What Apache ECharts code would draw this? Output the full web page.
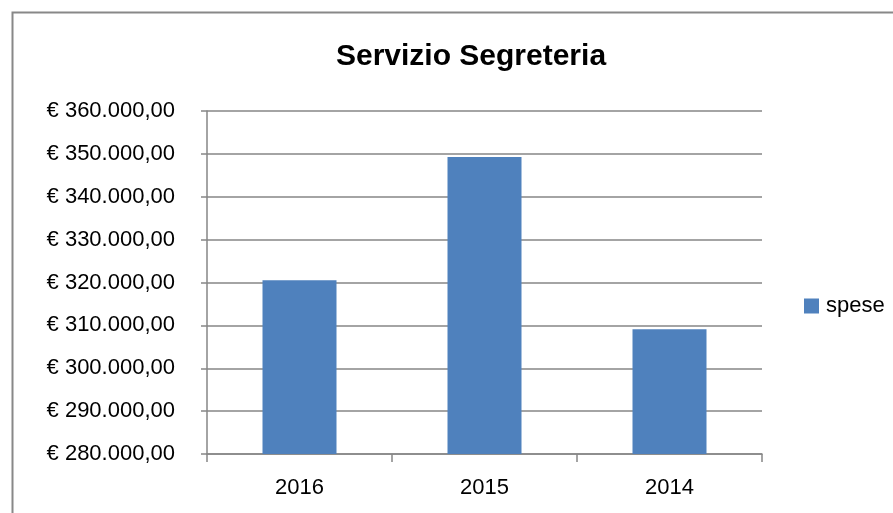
<!DOCTYPE html>
<html>
<head>
<meta charset="utf-8">
<script src="https://cdn.jsdelivr.net/npm/echarts@6/dist/echarts.min.js"></script>
<style>
  html, body { margin: 0; padding: 0; background: #fff; }
  #chart { width: 893px; height: 513px; }
</style>
</head>
<body>
<div id="chart"></div>
<script>
var anni = ['2016', '2015', '2014'];
var spese = [320500, 349300, 309100];
var yMin = 280000, yMax = 360000, yStep = 10000;

// € 360.000,00 style
function euro(v) {
  var s = Math.round(v).toString().replace(/\B(?=(\d{3})+(?!\d))/g, '.');
  return '€ ' + s + ',00';
}

var chart = echarts.init(document.getElementById('chart'));
var font = 'Liberation Sans';
var gray = '#868686';

var option = {
  animation: false,
  title: {
    text: 'Servizio Segreteria',
    left: 466,
    top: 37,
    textAlign: 'center',
    textStyle: { fontFamily: font, fontSize: 30, fontWeight: 'bold', color: '#000' }
  },
  legend: {
    data: ['spese'],
    left: 799,
    top: 290,
    icon: 'rect',
    itemWidth: 15,
    itemHeight: 15,
    itemGap: 6,
    textStyle: { fontFamily: font, fontSize: 22, color: '#000', padding: [0, 0, 0, 2] }
  },
  graphic: [{
    type: 'rect',
    shape: { x: 12.5, y: 12.5, width: 1000, height: 600 },
    style: { fill: 'none', stroke: '#888', lineWidth: 2 },
    silent: true
  }],
  grid: { left: 207, right: 131, top: 111, bottom: 59 },
  xAxis: {
    type: 'category',
    data: anni,
    axisLine: { lineStyle: { color: gray, width: 1.5 } },
    axisTick: { show: true, length: 8, lineStyle: { color: gray, width: 1.5 } },
    axisLabel: { fontFamily: font, fontSize: 22, color: '#000', margin: 23 }
  },
  yAxis: {
    type: 'value',
    min: yMin,
    max: yMax,
    interval: yStep,
    axisLine: { show: true, lineStyle: { color: gray, width: 1.5 } },
    axisTick: { show: true, length: 6, lineStyle: { color: gray, width: 1.5 } },
    splitLine: { lineStyle: { color: gray, width: 1.5 } },
    axisLabel: { fontFamily: font, fontSize: 22, color: '#000', margin: 32, formatter: euro }
  },
  series: [{
    name: 'spese',
    type: 'bar',
    data: spese,
    barWidth: '40%',
    itemStyle: { color: '#4F81BD' }
  }]
};
chart.setOption(option);
</script>
</body>
</html>
